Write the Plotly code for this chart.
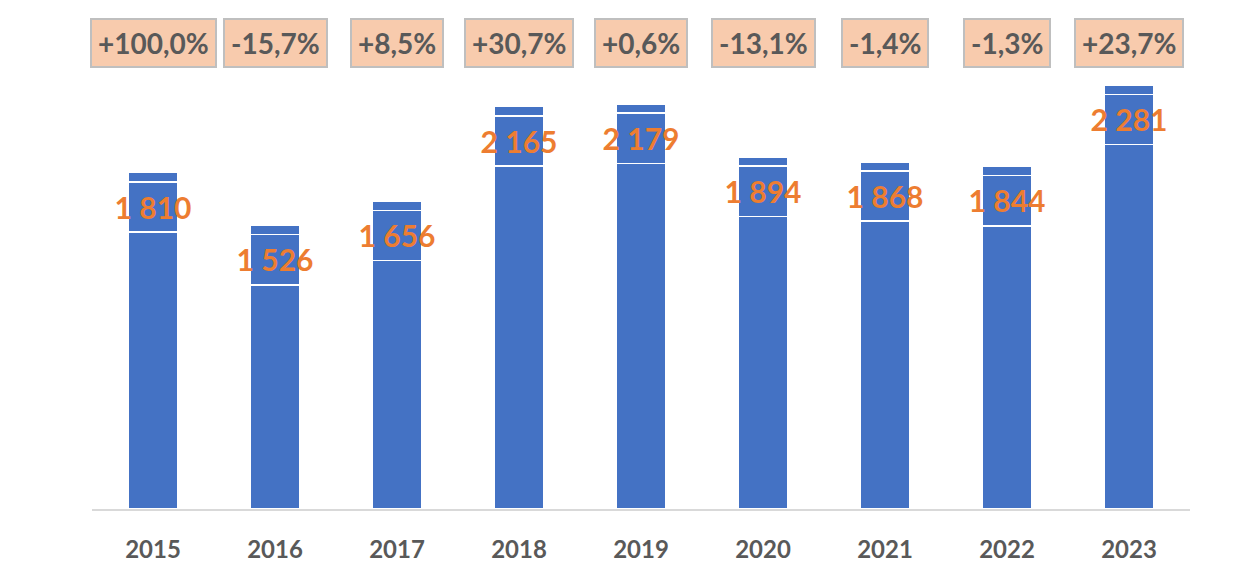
import plotly.graph_objects as go

years = ["2015", "2016", "2017", "2018", "2019", "2020", "2021", "2022", "2023"]
values = [1810, 1526, 1656, 2165, 2179, 1894, 1868, 1844, 2281]
value_labels = ["1 810", "1 526", "1 656", "2 165", "2 179", "1 894", "1 868", "1 844", "2 281"]
pct_labels = ["+100,0%", "-15,7%", "+8,5%", "+30,7%", "+0,6%", "-13,1%", "-1,4%", "-1,3%", "+23,7%"]

# decorative segment sizes (in value units) for the banded bar look
TOP_SEG = 50
MID_SEG = 270

BLUE = "#4472C4"
ORANGE = "#ED7D31"
GRAY_TXT = "#595959"
FONT = "Lato"

xpos = list(range(len(years)))
bottom = [v - TOP_SEG - MID_SEG for v in values]
middle = [MID_SEG] * len(values)
top = [TOP_SEG] * len(values)
label_y = [v - TOP_SEG - MID_SEG / 2 - 22 for v in values]

fig = go.Figure()
for seg in (bottom, middle, top):
    fig.add_trace(go.Bar(
        x=xpos, y=seg, width=0.41,
        marker=dict(color=BLUE, line=dict(color="white", width=1.6)),
        hoverinfo="skip", showlegend=False,
    ))

fig.add_trace(go.Scatter(
    x=xpos, y=label_y, mode="text",
    text=["<b>" + t + "</b>" for t in value_labels],
    textfont=dict(family=FONT, size=30, color=ORANGE),
    textposition="middle center", showlegend=False, hoverinfo="skip",
))

for xp, p in zip(xpos, pct_labels):
    fig.add_annotation(
        x=xp, xref="x", y=1.086, yref="paper", yanchor="middle",
        text="<b>" + p + "</b>", showarrow=False,
        font=dict(family=FONT, size=28, color=GRAY_TXT),
        bgcolor="#F8CBAD", bordercolor="#BFBFBF", borderwidth=2, borderpad=6,
    )

fig.update_layout(
    width=1256, height=567,
    margin=dict(l=84, r=74, t=72, b=64),
    barmode="stack",
    plot_bgcolor="white", paper_bgcolor="white",
    font=dict(family=FONT),
    xaxis=dict(
        range=[-0.5, len(years) - 0.5], autorange=False,
        tickmode="array", tickvals=xpos, ticktext=["<b>" + y + "</b>" for y in years],
        tickangle=0,
        showgrid=False, zeroline=False, showline=True, linecolor="#D9D9D9", linewidth=2,
        ticks="outside", ticklen=18, tickcolor="rgba(0,0,0,0)",
        tickfont=dict(family=FONT, size=24, color=GRAY_TXT),
    ),
    yaxis=dict(range=[0, 2308], autorange=False, visible=False, showgrid=False, zeroline=False),
)

fig.write_html("out.html")
